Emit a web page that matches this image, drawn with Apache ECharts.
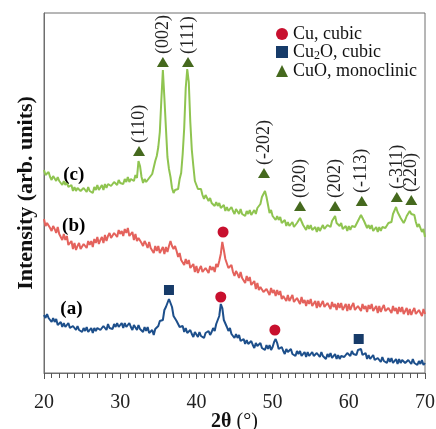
<!DOCTYPE html>
<html><head><meta charset="utf-8">
<script src="https://cdn.jsdelivr.net/npm/echarts@6/dist/echarts.min.js"></script>
<style>html,body{margin:0;padding:0;background:#fff}#c{width:436px;height:429px}</style>
</head><body><div id="c"></div>
<script>
// 2θ scan: start 20°, step 0.2°
const scanStart = 20, scanStep = 0.2;
const xMin = 20, xMax = 70, xInterval = 10;

// (a) blue
const sampleA = [
58,55,59,55,56, 51,55,51,54,48, 50,51,46,50,46, 48,50,45,43,47, 45,43,47,43,45,
41,45,42,46,41, 43,45,40,45,42, 45,47,43,42,47, 45,43,49,45,47, 44,49,46,50,46,
48,50,45,50,46, 48,50,46,43,48, 46,43,48,44,45, 41,46,42,46,40, 42,43,38,44,42,
47,52,51,53,63, 66,68,74,70,66, 57,58,52,53,46, 46,47,41,45,40, 42,43,39,36,41,
39,36,41,37,39, 35,40,38,42,38, 41,45,42,49,48, 57,69,65,53,51, 46,42,45,39,40,
35,39,35,38,32, 33,34,29,33,29, 31,32,28,25,30, 27,25,30,25,27, 23,28,24,28,23,
26,31,34,30,24, 25,26,22,19,24, 21,19,24,19,21, 17,22,19,22,17, 19,21,16,21,17,
19,21,17,15,20, 18,16,21,17,19, 14,19,16,20,15, 17,19,14,18,14, 17,19,16,14,20,
18,17,22,19,21, 18,23,21,24,18, 19,20,14,18,14, 16,18,13,11,15, 13,11,16,12,14,
10,15,11,15,10, 12,14,9,14,10, 13,15,10,8,13, 11,9,14,10,12, 8,12,9,13,8,
10];
// (b) red
const sampleB = [
154,147,150,152,145, 142,147,144,140,146, 139,141,133,139,133, 137,128,130,132,124, 130,123,127,130,124,
122,129,127,125,132, 128,132,126,134,130, 136,129,133,136,130, 138,132,137,140,135, 133,140,138,136,143,
139,142,137,144,140, 145,137,139,141,133, 139,132,135,137,130, 127,132,129,125,131, 125,127,120,127,122,
127,120,123,126,119, 126,121,127,132,127, 124,127,122,116,120, 113,115,108,114,109, 113,105,107,109,101,
107,100,104,107,101, 99,105,103,100,107, 103,106,101,109,106, 112,119,131,123,114, 114,105,107,108,101,
97,102,99,95,101, 95,97,90,97,92, 96,88,90,92,84, 90,83,86,88,81, 79,84,82,78,85,
80,83,77,83,78, 82,74,77,79,72, 78,72,75,78,71, 69,75,72,69,76, 70,73,67,73,69,
74,67,69,72,65, 72,66,69,72,66, 64,70,68,64,71, 66,69,63,70,65, 70,63,66,69,62,
69,63,67,70,63, 61,67,65,62,69, 64,67,61,68,64, 69,62,64,67,60, 67,61,65,68,62,
60,65,63,60,67, 62,65,59,66,61, 66,59,62,65,58, 64,58,62,65,59, 57,63,60,57,64,
59];
// (c) green
const sampleC = [
203,198,200,201,196, 193,197,195,192,196, 192,193,188,192,188, 191,186,187,188,182, 186,182,185,186,182,
180,185,183,181,186, 182,184,180,186,183, 188,183,185,188,183, 189,185,189,191,187, 186,191,190,188,193,
190,192,189,194,191, 196,191,194,196,192, 198,195,212,207,196, 190,194,191,189,195, 194,199,200,212,217,
226,241,273,303,275, 245,216,204,196,185, 180,183,183,184,194, 200,219,245,285,304, 291,251,223,207,192,
191,184,184,184,178, 174,178,175,172,175, 170,171,167,171,167, 170,165,166,168,162, 166,162,164,166,162,
159,164,162,159,164, 159,161,157,162,159, 163,158,160,163,159, 165,163,169,176,178, 182,176,168,160,163,
157,158,153,157,153, 156,150,152,153,147, 151,147,149,151,146, 144,150,151,155,155, 148,148,143,148,144,
148,143,144,146,141, 146,142,145,148,144, 142,148,147,146,152, 151,157,150,152,147, 150,144,146,147,142,
147,143,147,149,146, 145,152,154,158,160, 152,151,145,148,144, 148,142,144,146,141, 146,142,146,148,145,
144,150,150,151,159, 159,166,161,162,155, 156,150,153,157,155, 162,159,159,158,151, 146,149,145,141,144,
136];

const cuPeaks = [[43.2, 76], [43.5, 141], [50.3, 43]];
const cu2oPeaks = [[36.4, 83], [61.3, 34]];
const cuoAngles = [32.47, 35.6, 38.9, 48.87, 53.6, 58.2, 61.7, 66.3, 68.2];
const cuoHeights = [222, 311, 311, 200, 167, 167, 172, 176, 173];
const cuoLabels = ['(110)', '(002)', '(111)', '(-202)', '(020)', '(202)', '(-113)', '(-311)', '(220)'];
const curveNames = ['(a)', '(b)', '(c)'];
const curveLabelPos = [[23.6, 64], [23.9, 147], [23.9, 198]];
const legendNames = ['Cu, cubic', 'Cu2O, cubic', 'CuO, monoclinic'];

const toPairs = arr => arr.map((v, i) => [+(scanStart + i * scanStep).toFixed(1), v]);
const serif = 'Liberation Serif';

const chart = echarts.init(document.getElementById('c'), null, {renderer: 'canvas'});
chart.setOption({
  animation: false,
  backgroundColor: '#fff',
  grid: {left: 44, right: 11, top: 13, bottom: 56, show: true, borderColor: '#6e6e6e', borderWidth: 1,
         containLabel: false, outerBoundsMode: 'none'},
  legend: {
    data: legendNames,
    orient: 'vertical', left: 271, top: 20,
    itemWidth: 12, itemHeight: 12, itemGap: 0,
    formatter: n => n === 'Cu2O, cubic' ? '{n|Cu}{s|2}{n|O, cubic}' : '{n|' + n + '}',
    textStyle: {
      fontFamily: serif, fontSize: 18, color: '#111',
      rich: {n: {fontFamily: serif, fontSize: 18, color: '#111'},
             s: {fontFamily: serif, fontSize: 12, color: '#111', padding: [8, 0, 0, 0]}}
    }
  },
  xAxis: {
    type: 'value', min: xMin, max: xMax, interval: xInterval,
    axisLine: {show: true, lineStyle: {color: '#6e6e6e', width: 1}},
    axisTick: {show: true, length: 6, lineStyle: {color: '#555'}},
    minorTick: {show: true, splitNumber: 10, length: 5, lineStyle: {color: '#555'}},
    splitLine: {show: false},
    axisLabel: {fontFamily: serif, fontSize: 20, color: '#222', margin: 20},
    name: '{b|2θ}{r| (°)}', nameLocation: 'middle', nameGap: 39, nameMoveOverlap: false,
    nameTextStyle: {rich: {b: {fontFamily: serif, fontSize: 20, fontWeight: 'bold', color: '#111'},
                           r: {fontFamily: serif, fontSize: 20, color: '#111'}}}
  },
  yAxis: {
    type: 'value', min: 0, max: 360,
    axisLine: {show: true, lineStyle: {color: '#6e6e6e', width: 1}},
    axisTick: {show: false}, axisLabel: {show: false}, splitLine: {show: false},
    name: 'Intensity (arb. units)', nameLocation: 'middle', nameGap: 7, nameRotate: 90,
    nameTextStyle: {fontFamily: serif, fontSize: 22, fontWeight: 'bold', color: '#111'}
  },
  series: [
    {type: 'line', name: 'a', data: toPairs(sampleA), showSymbol: false, symbol: 'none',
     lineStyle: {color: '#1d4f8b', width: 2}, z: 2},
    {type: 'line', name: 'b', data: toPairs(sampleB), showSymbol: false, symbol: 'none',
     lineStyle: {color: '#e4625c', width: 2}, z: 2},
    {type: 'line', name: 'c', data: toPairs(sampleC), showSymbol: false, symbol: 'none',
     lineStyle: {color: '#8fc450', width: 2}, z: 2},
    {type: 'scatter', name: 'Cu, cubic', data: cuPeaks, symbol: 'circle', symbolSize: 11,
     itemStyle: {color: '#c8102e', opacity: 1}, z: 5},
    {type: 'scatter', name: 'Cu2O, cubic', data: cu2oPeaks, symbol: 'rect', symbolSize: 10,
     itemStyle: {color: '#173b69', opacity: 1}, z: 5},
    {type: 'scatter', name: 'CuO, monoclinic', symbol: 'triangle', symbolSize: [12, 10],
     itemStyle: {color: '#45691e', opacity: 1}, z: 5,
     data: cuoAngles.map((a, i) => ({value: [a, cuoHeights[i]], name: cuoLabels[i]})),
     label: {show: true, position: 'top', distance: 3, rotate: 90, align: 'left', verticalAlign: 'middle',
             formatter: '{b}', fontFamily: serif, fontSize: 18, color: '#222'}},
    {type: 'scatter', name: 'curveLabels', symbolSize: 0, silent: true, z: 6,
     itemStyle: {opacity: 1},
     data: curveLabelPos.map((p, i) => ({value: p, name: curveNames[i]})),
     label: {show: true, position: 'inside', formatter: '{b}', fontFamily: serif, fontSize: 19,
             fontWeight: 'bold', color: '#000', opacity: 1}}
  ]
});
</script>
</body></html>
